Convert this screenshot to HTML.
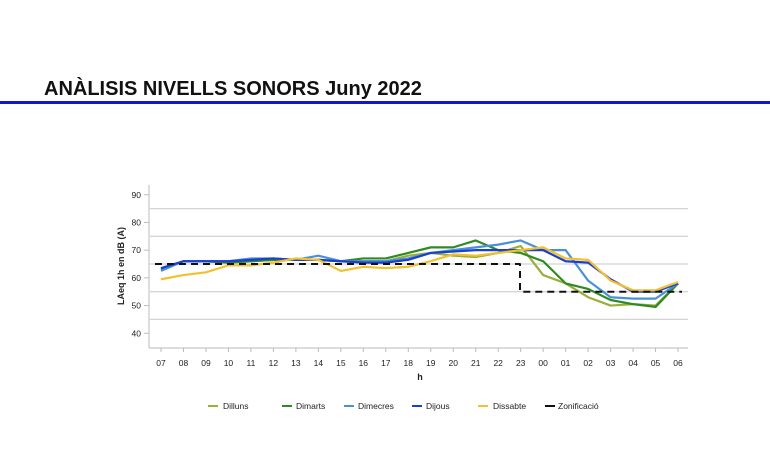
<!DOCTYPE html>
<html><head><meta charset="utf-8"><style>
body{margin:0;background:#fff;width:770px;height:453px;overflow:hidden;font-family:"Liberation Sans",Arial,sans-serif}
</style></head><body>
<svg id="s" width="770" height="453" xmlns="http://www.w3.org/2000/svg" font-family="Liberation Sans, Arial, sans-serif">
<text x="44" y="95" font-size="20" font-weight="bold" fill="#111">ANÀLISIS NIVELLS SONORS Juny 2022</text>
<rect x="0" y="101" width="770" height="3" fill="#1515cc"/>
<g id="grid"></g>
<g id="series" fill="none" stroke-width="2.2" stroke-linejoin="round"></g>
<line x1="149" y1="185" x2="149" y2="348" stroke="#bbb"/>
<line x1="149" y1="348" x2="688" y2="348" stroke="#bbb"/>
<text transform="translate(124,266) rotate(-90)" text-anchor="middle" font-size="9" font-weight="bold" fill="#222">LAeq 1h en dB (A)</text>
<text x="420" y="380" text-anchor="middle" font-size="9" font-weight="bold" fill="#222">h</text>
<g font-size="8.5" fill="#222">
<line x1="208" y1="406" x2="218" y2="406" stroke="#9aae3a" stroke-width="2"/><text x="223" y="409">Dilluns</text>
<line x1="282" y1="406" x2="292" y2="406" stroke="#2e8b22" stroke-width="2"/><text x="296" y="409">Dimarts</text>
<line x1="344" y1="406" x2="354" y2="406" stroke="#4a90d9" stroke-width="2"/><text x="358" y="409">Dimecres</text>
<line x1="412" y1="406" x2="422" y2="406" stroke="#1c3fd0" stroke-width="2"/><text x="426" y="409">Dijous</text>
<line x1="478" y1="406" x2="488" y2="406" stroke="#f2c12e" stroke-width="2"/><text x="493" y="409">Dissabte</text>
<line x1="545" y1="406" x2="555" y2="406" stroke="#111" stroke-width="2"/><text x="558" y="409">Zonificació</text>
</g>
</svg>
<script>
var NS="http://www.w3.org/2000/svg";
function Y(v){return 264-(v-65)*2.77}
function X(i){return 161+i*22.48}
var g=document.getElementById('grid'),s=document.getElementById('series');
function el(p,t,a){var e=document.createElementNS(NS,t);for(var k in a)e.setAttribute(k,a[k]);p.appendChild(e);return e}
[85,75,65,55,45].forEach(function(v){el(g,'line',{x1:150,x2:688,y1:Y(v),y2:Y(v),stroke:'#d4d4d4','stroke-width':1.3})});
[90,80,70,60,50,40].forEach(function(v){var t=el(g,'text',{x:141,y:Y(v)+3,'text-anchor':'end','font-size':8.5,fill:'#222'});t.textContent=v;el(g,'line',{x1:144,x2:149,y1:Y(v),y2:Y(v),stroke:'#bbb'})});
var hs=['07','08','09','10','11','12','13','14','15','16','17','18','19','20','21','22','23','00','01','02','03','04','05','06'];
hs.forEach(function(h,i){el(g,'line',{x1:X(i),x2:X(i),y1:348,y2:352,stroke:'#bbb'});var t=el(g,'text',{x:X(i),y:366,'text-anchor':'middle','font-size':8.5,fill:'#222'});t.textContent=h});
var D={
'#9aae3a':[63,66,66,65.5,66,66.5,66.5,66.5,66,66,66,68,69,68,67.5,69,71.5,61,58,53,50,50.5,50,58],
'#2e8b22':[63,66,66,65.5,66,66.5,66.5,66.5,66,67,67,69,71,71,73.5,70,69,66,58,56,52,50.5,49.5,58],
'#4a90d9':[62.5,66,66,66,67,67,66.5,68,66,66,66,67,69,70,71,72,73.5,70,70,59,53,52.5,52.5,58],
'#1c3fd0':[63.5,66,66,66,66.5,67,66.5,66.5,66,65.5,65.5,66.5,69,69.5,70,70,70,70,66,65.5,59.5,55,55,58],
'#f2c12e':[59.5,61,62,64.5,64.5,65.5,67,66.5,62.5,64,63.5,64,66,68.5,68,69,70,71,67,66.5,59,55.5,55.5,58.5]};
for(var c in D){el(s,'polyline',{points:D[c].map(function(v,i){return X(i)+','+Y(v)}).join(' '),stroke:c})}
el(s,'polyline',{points:'155,'+Y(65)+' 520,'+Y(65)+' 520,'+Y(55)+' 682,'+Y(55),stroke:'#111','stroke-width':2,'stroke-dasharray':'7,5'});
</script>
</body></html>
